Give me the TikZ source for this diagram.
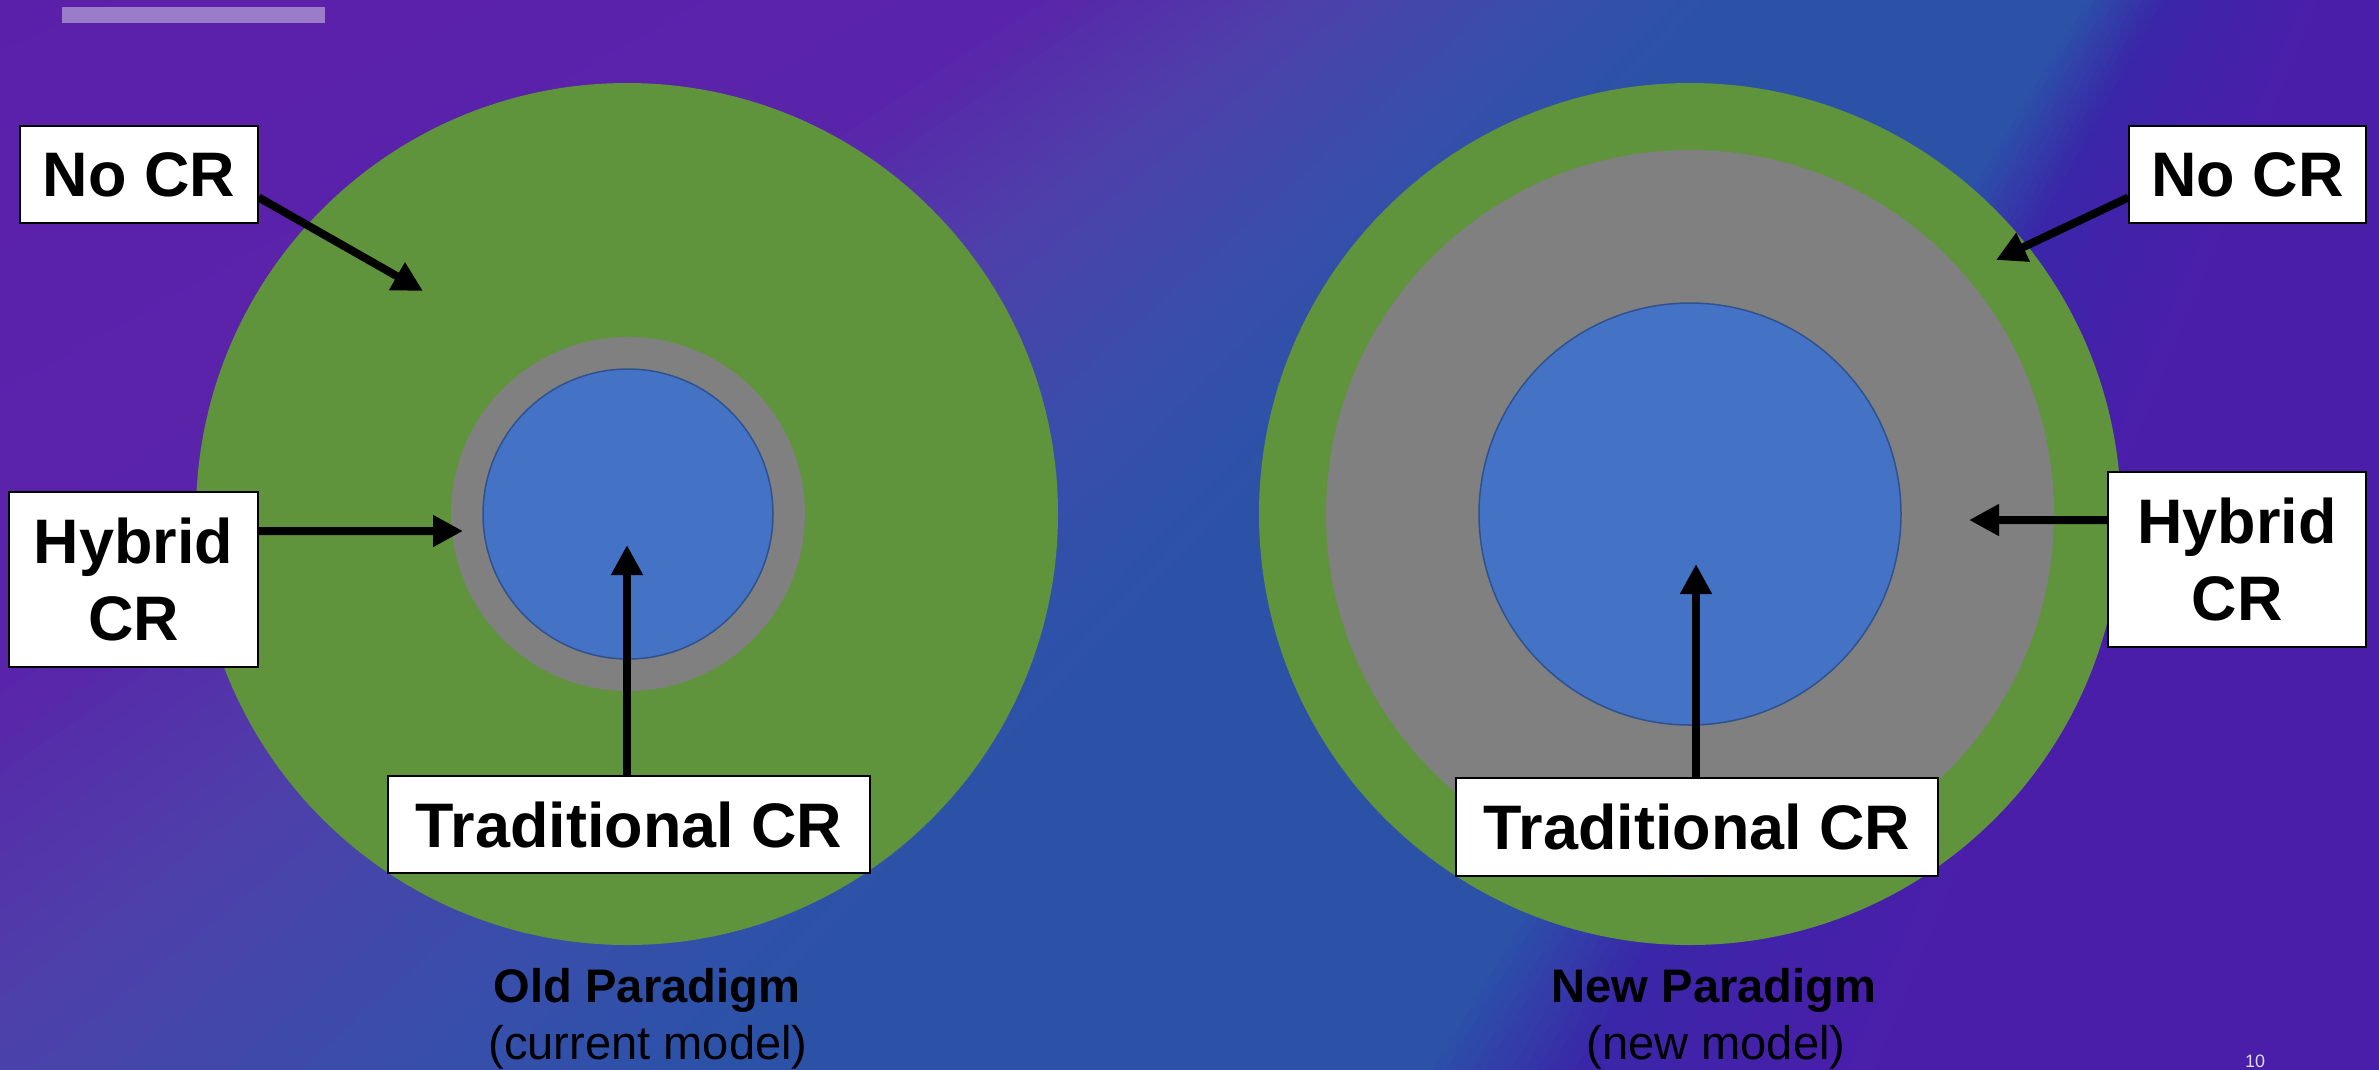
\documentclass[tikz,border=0pt]{standalone}
\usepackage{fontspec}
\setmainfont{Liberation Sans}
\usetikzlibrary{arrows.meta}

% background fan colours
\definecolor{bgPa}{RGB}{92,31,170}
\definecolor{bgPb}{RGB}{89,36,170}
\definecolor{bgL}{RGB}{78,64,170}
\definecolor{bgBa}{RGB}{56,78,170}
\definecolor{bgB}{RGB}{44,82,168}
\definecolor{bgD}{RGB}{58,38,168}
\definecolor{bgPc}{RGB}{75,30,170}
% ring colours
\definecolor{ringGreen}{RGB}{95,148,60}
\definecolor{ringGray}{RGB}{128,128,128}
\definecolor{coreBlue}{RGB}{68,114,196}
\definecolor{coreEdge}{RGB}{47,82,143}
\definecolor{barLilac}{RGB}{155,124,200}
\definecolor{pgnum}{RGB}{220,220,230}

\begin{document}
\begin{tikzpicture}[x=0.1mm,y=-0.1mm,
  lbl/.style={draw=black, fill=white, line width=0.15mm, inner sep=0pt,
    align=center, font=\bfseries\fontsize{17.9}{22}\selectfont},
  arr/.style={line width=0.8mm, -{Triangle[length=3mm,width=3mm]}},
  captop/.style={anchor=base, inner sep=0pt, font=\bfseries\fontsize{13.4}{16}\selectfont},
  capsub/.style={anchor=base, inner sep=0pt, font=\fontsize{13.4}{16}\selectfont},
  disc/.style={draw=coreEdge, fill=coreBlue, line width=0.15mm}]

\useasboundingbox (0,0) rectangle (2379,1069);

% ---- background: colour fan around a point above the right edge
\begin{scope}
  \clip (0,0) rectangle (2379,1069);
  \coordinate (fanC) at (2798,-1159);
  \foreach \a/\b/\ca/\cb in {95/112/bgPc/bgPc, 112/118.5/bgPc/bgD,
      118.5/121.5/bgD/bgB, 121.5/133/bgB/bgB, 133/137/bgB/bgBa,
      137/142/bgBa/bgL, 142/146.5/bgL/bgPb, 146.5/160/bgPb/bgPa}{
    \foreach \k in {0,...,11}{
      \pgfmathsetmacro{\th}{\a+(\b-\a)*\k/12}
      \pgfmathtruncatemacro{\pc}{100*\k/12}
      \fill[\cb!\pc!\ca] (fanC) -- +(\th:8000) -- +(\th+40:8000)
        -- +(\th+80:8000) -- cycle;
    }
  }
\end{scope}

% title bar stub
\fill[barLilac] (62,7) rectangle (325,23);

% ---- old paradigm rings
\fill[ringGreen] (627,514) circle[radius=431];
\fill[ringGray] (628,514) circle[radius=177];
\draw[disc] (628,514) circle[radius=145];

% ---- new paradigm rings
\fill[ringGreen] (1690,514) circle[radius=431];
\fill[ringGray] (1690,514) circle[radius=364];
\draw[disc] (1690,514) circle[radius=211];

% ---- labels
\node[lbl, minimum width=23.8mm, minimum height=9.7mm] (nocrL) at (139,174.5) {No CR};
\node[lbl, minimum width=24.9mm, minimum height=17.5mm] (hybL) at (133.5,579.5) {Hybrid\\CR};
\node[lbl, minimum width=48.2mm, minimum height=9.7mm] (tradL) at (629,824.5) {Traditional CR};
\node[lbl, minimum width=23.7mm, minimum height=9.7mm] (nocrR) at (2247.5,174.5) {No CR};
\node[lbl, minimum width=25.8mm, minimum height=17.5mm] (hybR) at (2237,559.5) {Hybrid\\CR};
\node[lbl, minimum width=48.2mm, minimum height=9.8mm] (tradR) at (1697,827) {Traditional CR};

% ---- arrow tips
\coordinate (tipNoL) at (423,291);
\coordinate (tipHyL) at (463,531);
\coordinate (tipTrL) at (627,545);
\coordinate (tipNoR) at (1996,260);
\coordinate (tipHyR) at (1969,520);
\coordinate (tipTrR) at (1696,564);

\draw[arr] ([yshift=-2.3mm]nocrL.east) -- (tipNoL);
\draw[arr] ([yshift=4.85mm]hybL.east) -- (tipHyL);
\draw[arr] (tipTrL |- tradL.north) -- (tipTrL);
\draw[arr] ([yshift=-2.3mm]nocrR.west) -- (tipNoR);
\draw[arr] ([yshift=3.95mm]hybR.west) -- (tipHyR);
\draw[arr] (tipTrR |- tradR.north) -- (tipTrR);

% ---- captions
\node[captop] (oldT) at (647,1002) {Old Paradigm};
\node[capsub] (oldS) at (648,1059) {(current model)};
\node[captop] (newT) at (1714,1002) {New Paradigm};
\node[capsub] (newS) at (1716,1059) {(new model)};

% page number
\node[anchor=base, inner sep=0pt, text=pgnum, font=\fontsize{5.1}{6}\selectfont] (pg) at (2255,1067) {10};

\end{tikzpicture}
\end{document}
